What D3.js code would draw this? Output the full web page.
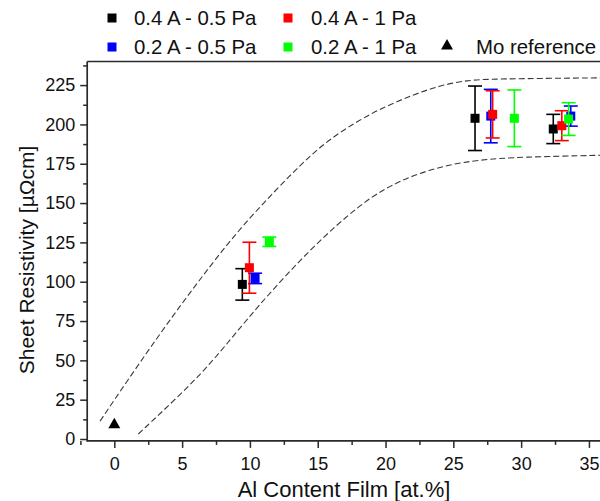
<!DOCTYPE html>
<html>
<head>
<meta charset="utf-8">
<script src="https://cdn.jsdelivr.net/npm/d3@7"></script>
<style>
  html, body { margin: 0; padding: 0; background: #fff; }
  svg { display: block; font-family: "Liberation Sans", Arial, sans-serif; }
</style>
</head>
<body>
<svg id="chart" width="600" height="501"></svg>
<script>
// Al content of the film [at.%] and sheet resistivity [µΩcm] with error, per deposition setting
const seriesNames = ["0.4 A - 0.5 Pa", "0.2 A - 0.5 Pa", "0.4 A - 1 Pa", "0.2 A - 1 Pa"];
const seriesColors = ["#000000", "#0000ff", "#ff0000", "#00ff00"];

const alBlack = [9.44, 26.6, 32.37];
const rhoBlack = [98.3, 203.9, 197.1];
const errBlack = [10.0, 20.5, 9.3];

const alBlue = [10.38, 27.76, 33.66];
const rhoBlue = [102.1, 205.3, 205.3];
const errBlue = [3.3, 17.0, 6.4];

const alRed = [9.96, 27.9, 33.0];
const rhoRed = [108.9, 206.4, 199.2];
const errRed = [16.2, 15.0, 9.5];

const alGreen = [11.43, 29.5, 33.5];
const rhoGreen = [125.4, 203.9, 203.4];
const errGreen = [3.0, 18.0, 10.4];

// Mo reference film
const moAl = [0];
const moRho = [9.1];

// Dashed envelope around the data
const upperAl = [-1.05, 1, 3, 5, 7, 9, 11, 13, 14.5, 16, 18, 20, 22, 24, 26, 28, 36];
const upperRho = [11.4, 37.6, 62.4, 86.4, 109.2, 131.0, 150.0, 168.0, 180.5, 191.3, 202.5, 211.5, 218.7, 224.7, 228.1, 229.0, 229.6];
const lowerAl = [1.77, 4.85, 7.3, 10.5, 14.68, 18.12, 20, 22.05, 24.51, 26.97, 30, 36];
const lowerRho = [3.2, 28.0, 49.5, 84.0, 123.0, 149.0, 159.5, 167.8, 174.2, 177.6, 179.3, 180.4];

const xTicks = [0, 5, 10, 15, 20, 25, 30, 35];
const xMinor = [-2.5, 2.5, 7.5, 12.5, 17.5, 22.5, 27.5, 32.5];
const yTicks = [0, 25, 50, 75, 100, 125, 150, 175, 200, 225];
const yMinor = [12.5, 37.5, 62.5, 87.5, 112.5, 137.5, 162.5, 187.5, 212.5, 237.5];

const series = [
  { name: seriesNames[0], color: seriesColors[0], x: alBlack, y: rhoBlack, e: errBlack },
  { name: seriesNames[1], color: seriesColors[1], x: alBlue, y: rhoBlue, e: errBlue },
  { name: seriesNames[2], color: seriesColors[2], x: alRed, y: rhoRed, e: errRed },
  { name: seriesNames[3], color: seriesColors[3], x: alGreen, y: rhoGreen, e: errGreen }
];

const svg = d3.select("#chart");
const plotL = 87.2, plotR = 602.5, plotT = 61.5, plotB = 440.9;

const x = d3.scaleLinear().domain([-2, 36]).range([plotL, plotR]);
const y = d3.scaleLinear().domain([-1.2, 240]).range([plotB, plotT]);

svg.append("defs").append("clipPath").attr("id", "plotClip")
  .append("rect").attr("x", plotL).attr("y", plotT)
  .attr("width", plotR - plotL).attr("height", plotB - plotT);

const axisColor = "#2a2a2a";

// Envelope curves
const env = svg.append("g").attr("clip-path", "url(#plotClip)");
const line = d3.line().x(d => x(d[0])).y(d => y(d[1])).curve(d3.curveBasis);
[[upperAl, upperRho], [lowerAl, lowerRho]].forEach(([xs, ys]) => {
  env.append("path")
    .attr("d", line(xs.map((v, i) => [v, ys[i]])))
    .attr("fill", "none")
    .attr("stroke", "#3a3a3a")
    .attr("stroke-width", 1.1)
    .attr("stroke-dasharray", "6,3");
});

// Axes
const gx = svg.append("g").attr("transform", `translate(0,${plotB})`)
  .call(d3.axisBottom(x).tickValues(xTicks).tickSize(7).tickPadding(9).tickFormat(d3.format("d")));
const gxm = svg.append("g").attr("transform", `translate(0,${plotB})`)
  .call(d3.axisBottom(x).tickValues(xMinor).tickSize(4).tickFormat(""));
const gy = svg.append("g").attr("transform", `translate(${plotL},0)`)
  .call(d3.axisLeft(y).tickValues(yTicks).tickSize(7).tickPadding(5).tickFormat(d3.format("d")));
const gym = svg.append("g").attr("transform", `translate(${plotL},0)`)
  .call(d3.axisLeft(y).tickValues(yMinor).tickSize(4).tickFormat(""));

[gx, gxm, gy, gym].forEach(g => {
  g.select(".domain").remove();
  g.selectAll(".tick line").attr("stroke", axisColor).attr("stroke-width", 1.5);
  g.selectAll(".tick text").attr("fill", "#111").style("font-size", "18px")
    .style("font-family", "'Liberation Sans', Arial, sans-serif");
});

// Frame lines: left, bottom, top
svg.append("line").attr("x1", plotL).attr("x2", plotL).attr("y1", plotT).attr("y2", plotB + 0.8)
  .attr("stroke", axisColor).attr("stroke-width", 1.7);
svg.append("line").attr("x1", plotL).attr("x2", plotR).attr("y1", plotB).attr("y2", plotB)
  .attr("stroke", axisColor).attr("stroke-width", 1.7);
svg.append("line").attr("x1", plotL).attr("x2", plotR).attr("y1", plotT).attr("y2", plotT)
  .attr("stroke", axisColor).attr("stroke-width", 1.7);

// Data: error bars then square markers, per series
const capHalf = 7, sq = 9;
series.forEach(s => {
  const g = svg.append("g");
  s.x.forEach((xv, i) => {
    const cx = x(xv), y1 = y(s.y[i] + s.e[i]), y2 = y(s.y[i] - s.e[i]);
    g.append("line").attr("x1", cx).attr("x2", cx).attr("y1", y1).attr("y2", y2)
      .attr("stroke", s.color).attr("stroke-width", 1.6);
    [y1, y2].forEach(yy => g.append("line")
      .attr("x1", cx - capHalf).attr("x2", cx + capHalf).attr("y1", yy).attr("y2", yy)
      .attr("stroke", s.color).attr("stroke-width", 1.6));
  });
  g.selectAll("rect").data(s.x).enter().append("rect")
    .attr("x", (d, i) => x(d) - sq / 2)
    .attr("y", (d, i) => y(s.y[i]) - sq / 2)
    .attr("width", sq).attr("height", sq)
    .attr("fill", s.color);
});

// Mo reference triangle
const tri = d3.symbol().type(d3.symbolTriangle).size(62);
svg.selectAll(".mo").data(moAl).enter().append("path")
  .attr("class", "mo")
  .attr("d", tri)
  .attr("transform", (d, i) => `translate(${x(d)},${y(moRho[i])})`)
  .attr("fill", "#000");

// Axis titles
svg.append("text").attr("x", 344).attr("y", 497).attr("text-anchor", "middle")
  .style("font-size", "22px").attr("fill", "#111").text("Al Content Film [at.%]");
svg.append("text").attr("transform", "translate(34,260) rotate(-90)").attr("text-anchor", "middle")
  .style("font-size", "21px").attr("fill", "#111").text("Sheet Resistivity [µΩcm]");

// Legend
const legendItems = [
  { label: seriesNames[0], color: seriesColors[0], mx: 112, tx: 134, cy: 18, shape: "sq" },
  { label: seriesNames[2], color: seriesColors[2], mx: 288, tx: 311, cy: 18, shape: "sq" },
  { label: seriesNames[1], color: seriesColors[1], mx: 112, tx: 134, cy: 47, shape: "sq" },
  { label: seriesNames[3], color: seriesColors[3], mx: 288, tx: 311, cy: 47, shape: "sq" },
  { label: "Mo reference", color: "#000", mx: 447, tx: 476, cy: 47, shape: "tri" }
];
const lg = svg.append("g");
legendItems.forEach(it => {
  if (it.shape === "sq") {
    lg.append("rect").attr("x", it.mx - sq / 2).attr("y", it.cy - sq / 2)
      .attr("width", sq).attr("height", sq).attr("fill", it.color);
  } else {
    lg.append("path").attr("d", tri).attr("transform", `translate(${it.mx},${it.cy - 1})`).attr("fill", it.color);
  }
  lg.append("text").attr("x", it.tx).attr("y", it.cy + 7)
    .style("font-size", "20.4px").attr("fill", "#111").text(it.label);
});
</script>
</body>
</html>
